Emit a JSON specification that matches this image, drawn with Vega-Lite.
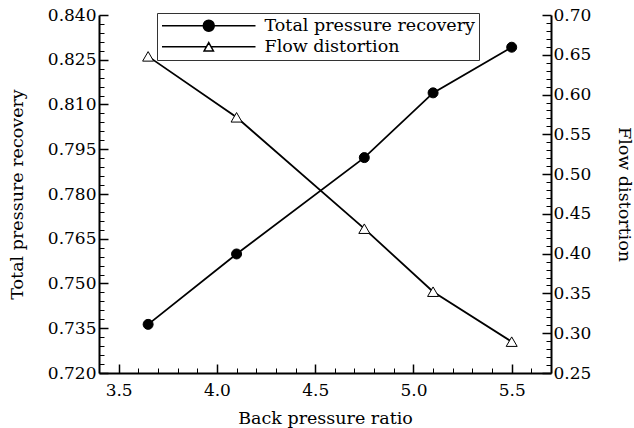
{
  "$schema": "https://vega.github.io/schema/vega-lite/v6.json",
  "width": 452,
  "height": 358,
  "autosize": {"type": "none"},
  "padding": {"left": 99, "top": 15, "right": 83, "bottom": 55},
  "background": "white",
  "config": {
    "font": "DejaVu Serif",
    "view": {"stroke": null},
    "axis": {
      "labelFont": "DejaVu Serif",
      "labelFontSize": 17,
      "labelColor": "black",
      "titleFont": "DejaVu Serif",
      "titleFontSize": 17.5,
      "titleFontWeight": "normal",
      "titleColor": "black",
      "domainColor": "black",
      "domainWidth": 2,
      "tickColor": "black",
      "grid": false,
      "labelFlush": false,
      "labelOverlap": false
    },
    "legend": {
      "labelFont": "DejaVu Serif",
      "labelFontSize": 17.5,
      "labelColor": "black",
      "labelLimit": 400
    }
  },
  "data": {
    "values": [
      {"ratio": 3.65, "value": 0.7363, "series": "Total pressure recovery"},
      {"ratio": 4.1, "value": 0.7599, "series": "Total pressure recovery"},
      {"ratio": 4.75, "value": 0.7922, "series": "Total pressure recovery"},
      {"ratio": 5.1, "value": 0.8139, "series": "Total pressure recovery"},
      {"ratio": 5.5, "value": 0.8292, "series": "Total pressure recovery"},
      {"ratio": 3.65, "value": 0.648, "series": "Flow distortion"},
      {"ratio": 4.1, "value": 0.5714, "series": "Flow distortion"},
      {"ratio": 4.75, "value": 0.4314, "series": "Flow distortion"},
      {"ratio": 5.1, "value": 0.3522, "series": "Flow distortion"},
      {"ratio": 5.5, "value": 0.2894, "series": "Flow distortion"}
    ]
  },
  "encoding": {
    "x": {
      "field": "ratio",
      "type": "quantitative",
      "scale": {"domain": [3.4, 5.7], "nice": false, "zero": false},
      "axis": {
        "title": "Back pressure ratio",
        "titlePadding": 7,
        "values": [3.5, 3.6, 3.7, 3.8, 3.9, 4.0, 4.1, 4.2, 4.3, 4.4, 4.5, 4.6, 4.7, 4.8, 4.9, 5.0, 5.1, 5.2, 5.3, 5.4, 5.5, 5.6],
        "labelExpr": "round(datum.value*10) % 5 == 0 ? format(datum.value, '.1f') : ''",
        "tickSize": {"condition": {"test": "round(datum.value*10) % 5 == 0", "value": -9}, "value": -5},
        "tickWidth": {"condition": {"test": "round(datum.value*10) % 5 == 0", "value": 1.5}, "value": 1},
        "labelPadding": 18
      }
    }
  },
  "layer": [
    {
      "transform": [{"filter": "datum.series == 'Total pressure recovery'"}],
      "encoding": {
        "y": {
          "field": "value",
          "type": "quantitative",
          "scale": {"domain": [0.72, 0.84], "nice": false, "zero": false},
          "axis": {
            "orient": "left",
            "title": "Total pressure recovery",
            "titlePadding": 21,
            "values": [0.720, 0.723, 0.726, 0.729, 0.732, 0.735, 0.738, 0.741, 0.744, 0.747, 0.750, 0.753, 0.756, 0.759, 0.762, 0.765, 0.768, 0.771, 0.774, 0.777, 0.780, 0.783, 0.786, 0.789, 0.792, 0.795, 0.798, 0.801, 0.804, 0.807, 0.810, 0.813, 0.816, 0.819, 0.822, 0.825, 0.828, 0.831, 0.834, 0.837, 0.840],
            "labelExpr": "round(datum.value*1000) % 15 == 0 ? format(datum.value, '.3f') : ''",
            "tickSize": {"condition": {"test": "round(datum.value*1000) % 15 == 0", "value": -9}, "value": -5},
            "tickWidth": {"condition": {"test": "round(datum.value*1000) % 15 == 0", "value": 1.5}, "value": 1},
            "labelPadding": 12
          }
        }
      },
      "layer": [
        {"mark": {"type": "line", "color": "black", "strokeWidth": 1.8}},
        {
          "mark": {"type": "point", "filled": true, "stroke": "black", "strokeWidth": 1, "size": 100, "opacity": 1},
          "encoding": {
            "fill": {
              "field": "series",
              "type": "nominal",
              "scale": {"domain": ["Total pressure recovery", "Flow distortion"], "range": ["black", "white"]},
              "legend": {
                "title": null,
                "orient": "none",
                "legendX": 58,
                "legendY": -2,
                "padding": 4,
                "strokeColor": "#333333",
                "fillColor": "white",
                "symbolSize": 121,
                "symbolOffset": 39,
                "labelOffset": 47,
                "rowPadding": 2,
                "symbolStrokeColor": "black",
                "symbolStrokeWidth": 1.5,
                "symbolType": {"expr": "datum.value == 'Flow distortion' ? 'M-8.5,0H-0.45M0.45,0H8.5M0,-0.75L0.85,0.75L-0.85,0.75Z' : 'M-8.5,0H8.5M1,0A1,1,0,1,1,-1,0A1,1,0,1,1,1,0Z'"}
              }
            }
          }
        }
      ]
    },
    {
      "transform": [{"filter": "datum.series == 'Flow distortion'"}],
      "encoding": {
        "y": {
          "field": "value",
          "type": "quantitative",
          "scale": {"domain": [0.25, 0.7], "nice": false, "zero": false},
          "axis": {
            "orient": "right",
            "title": "Flow distortion",
            "titlePadding": 24,
            "values": [0.25, 0.26, 0.27, 0.28, 0.29, 0.30, 0.31, 0.32, 0.33, 0.34, 0.35, 0.36, 0.37, 0.38, 0.39, 0.40, 0.41, 0.42, 0.43, 0.44, 0.45, 0.46, 0.47, 0.48, 0.49, 0.50, 0.51, 0.52, 0.53, 0.54, 0.55, 0.56, 0.57, 0.58, 0.59, 0.60, 0.61, 0.62, 0.63, 0.64, 0.65, 0.66, 0.67, 0.68, 0.69, 0.70],
            "labelExpr": "round(datum.value*100) % 5 == 0 ? format(datum.value, '.2f') : ''",
            "tickSize": {"condition": {"test": "round(datum.value*100) % 5 == 0", "value": -9}, "value": -5},
            "tickWidth": {"condition": {"test": "round(datum.value*100) % 5 == 0", "value": 1.5}, "value": 1},
            "labelPadding": 11
          }
        }
      },
      "layer": [
        {"mark": {"type": "line", "color": "black", "strokeWidth": 1.8}},
        {
          "mark": {"type": "point", "shape": "triangle-up", "filled": true, "stroke": "black", "strokeWidth": 1, "size": 121, "opacity": 1},
          "encoding": {
            "fill": {"field": "series", "type": "nominal"}
          }
        }
      ]
    }
  ],
  "resolve": {"scale": {"y": "independent"}}
}
